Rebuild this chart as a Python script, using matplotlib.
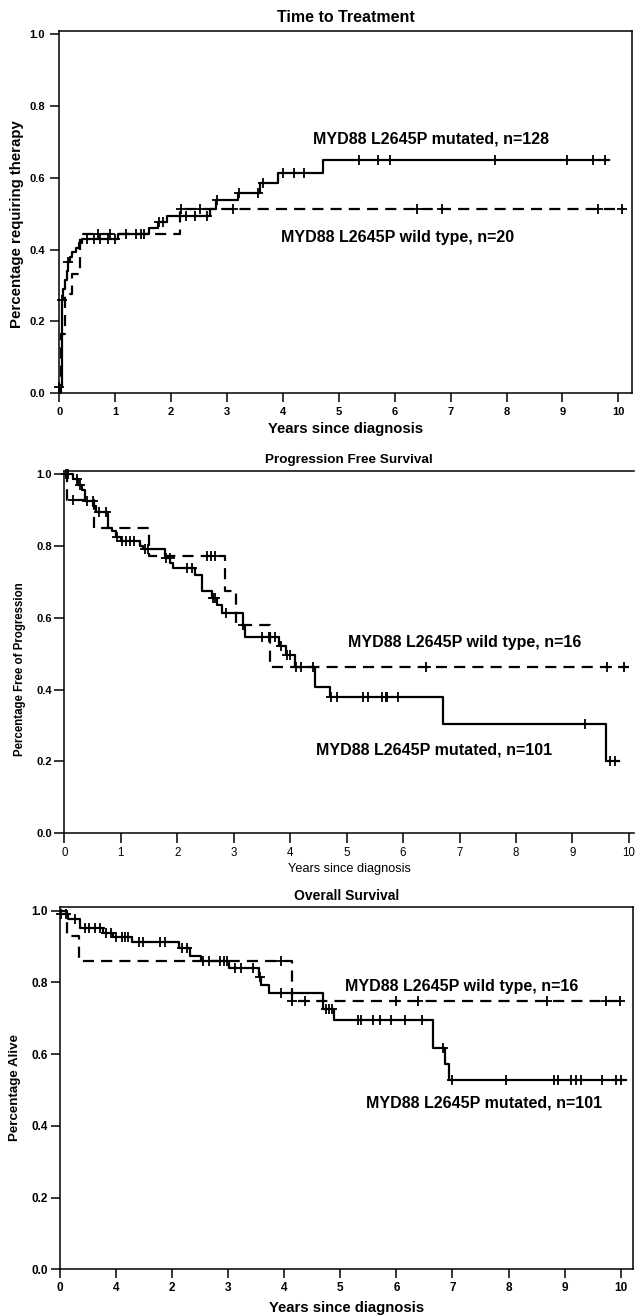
import matplotlib
matplotlib.use("Agg")
import matplotlib.pyplot as plt
import numpy as np

plt.rcParams['font.family'] = ['Liberation Sans', 'DejaVu Sans']

# ---------------- data ----------------
# Panel 1: Time to Treatment (proportion requiring therapy)
ttt_mut_time = [0, 0.04, 0.07, 0.10, 0.13, 0.16, 0.19, 0.22, 0.30, 0.36, 0.40, 1.05, 1.60,
                1.76, 1.93, 2.70, 2.80, 3.20, 3.59, 3.91, 4.72, 9.84]
ttt_mut_prob = [0.018, 0.26, 0.29, 0.315, 0.34, 0.366, 0.38, 0.394, 0.403, 0.417, 0.429, 0.443, 0.46,
                0.476, 0.492, 0.514, 0.537, 0.558, 0.586, 0.614, 0.65, 0.65]
ttt_mut_cens = [0.0, 0.04, 0.16, 0.49, 0.62, 0.73, 0.88, 1.0, 1.2, 1.38, 1.47, 1.51, 1.78, 1.86,
                2.26, 2.43, 2.65, 2.83, 3.21, 3.56, 3.65, 4.0, 4.19, 4.37, 5.36, 5.70, 5.92, 7.79,
                9.08, 9.55, 9.76]
ttt_wt_time = [0, 0.03, 0.10, 0.22, 0.37, 2.16, 10.10]
ttt_wt_prob = [0.0, 0.165, 0.277, 0.333, 0.443, 0.514, 0.514]
ttt_wt_cens = [0.70, 0.91, 2.17, 2.52, 3.11, 6.39, 6.84, 9.63, 10.07]

# Panel 2: Progression Free Survival
pfs_mut_time = [0, 0.16, 0.25, 0.31, 0.37, 0.51, 0.56, 0.78, 0.84, 0.91, 1.01, 1.34, 1.40, 1.78,
                1.88, 1.93, 2.31, 2.43, 2.61, 2.70, 2.79, 3.16, 3.20, 3.81, 3.93, 4.08, 4.44, 4.71,
                6.70, 9.59, 9.82]
pfs_mut_prob = [1.0, 0.985, 0.97, 0.955, 0.925, 0.91, 0.895, 0.85, 0.84, 0.825, 0.812, 0.80, 0.79,
                0.765, 0.752, 0.738, 0.719, 0.675, 0.654, 0.635, 0.614, 0.58, 0.547, 0.521, 0.496,
                0.464, 0.408, 0.38, 0.303, 0.201, 0.201]
pfs_mut_cens = [0.03, 0.07, 0.23, 0.27, 0.41, 0.50, 0.62, 0.74, 0.94, 1.02, 1.09, 1.17, 1.23, 1.43,
                1.49, 1.81, 1.87, 2.17, 2.26, 2.64, 2.67, 2.86, 3.17, 3.50, 3.62, 3.65, 3.73, 3.83,
                3.95, 4.00, 4.11, 4.20, 4.41, 4.72, 4.83, 5.29, 5.38, 5.62, 5.69, 5.72, 5.91, 9.23,
                9.67, 9.75]
pfs_wt_time = [0, 0.04, 0.53, 1.50, 2.84, 3.04, 3.64, 10.01]
pfs_wt_prob = [1.0, 0.928, 0.849, 0.772, 0.675, 0.58, 0.462, 0.462]
pfs_wt_cens = [0.15, 2.52, 2.59, 2.67, 6.40, 9.61, 9.92]

# Panel 3: Overall Survival
os_mut_time = [0, 0.15, 0.35, 0.77, 0.95, 1.28, 2.13, 2.31, 2.51, 3.02, 3.55, 3.59, 3.73, 4.69,
               4.89, 6.65, 6.86, 6.94, 10.09]
os_mut_prob = [0.99, 0.976, 0.951, 0.938, 0.925, 0.911, 0.895, 0.873, 0.858, 0.839, 0.816, 0.793,
               0.771, 0.725, 0.695, 0.616, 0.572, 0.528, 0.528]
os_mut_cens = [0.02, 0.10, 0.27, 0.45, 0.52, 0.62, 0.71, 0.82, 0.91, 1.0, 1.1, 1.16, 1.22, 1.41,
               1.48, 1.79, 1.88, 2.17, 2.27, 2.55, 2.66, 2.85, 2.92, 2.97, 3.12, 3.22, 3.45, 3.57,
               3.95, 4.13, 4.74, 4.80, 4.86, 5.32, 5.36, 5.58, 5.70, 5.91, 6.15, 6.45, 6.83, 7.0,
               7.96, 8.81, 8.88, 9.12, 9.20, 9.30, 9.66, 9.92, 10.01]
os_wt_time = [0, 0.12, 0.33, 4.13, 10.0]
os_wt_prob = [1.0, 0.929, 0.858, 0.749, 0.749]
os_wt_cens = [3.95, 4.14, 4.37, 6.0, 6.39, 8.68, 9.73, 9.98]

x_ticks = list(range(0, 11))
x_ticklabels = [str(v) for v in x_ticks]
os_x_ticklabels = ['0', '4', '2', '3', '4', '5', '6', '7', '8', '9', '10']
y_ticks = [0.0, 0.2, 0.4, 0.6, 0.8, 1.0]
y_ticklabels = ['0.0', '0.2', '0.4', '0.6', '0.8', '1.0']

# ---------------- drawing ----------------
W, H = 635, 1315
fig = plt.figure(figsize=(W / 100, H / 100), dpi=100)
fig.patch.set_facecolor('white')

DASH = (0, (5, 3.2))


def km(ax, t, p, cens, dashed):
    t = np.asarray(t, dtype=float)
    p = np.asarray(p, dtype=float)
    ax.step(t, p, where='post', color='black', lw=1.6,
            linestyle=DASH if dashed else '-', clip_on=False, zorder=3)
    c = np.asarray(cens, dtype=float)
    idx = np.clip(np.searchsorted(t, c, side='right') - 1, 0, len(p) - 1)
    ax.plot(c, p[idx], linestyle='none', marker='+', ms=6.5, mew=1.3,
            color='black', clip_on=False, zorder=4)


def style(ax, xmax, ymax, tick_len, spine_right=True):
    ax.set_xlim(0, xmax)
    ax.set_ylim(0, ymax)
    for s in ax.spines.values():
        s.set_linewidth(1.1)
    ax.spines['right'].set_visible(spine_right)
    ax.tick_params(direction='out', length=tick_len, width=1.1, top=False, right=False)


# Panel 1 ---------------------------------------------------------
ax1 = fig.add_axes([59.3 / W, (H - 393.3) / H, 572.7 / W, 362.6 / H])
style(ax1, 10.245, 1.009, 6.7)
km(ax1, ttt_mut_time, ttt_mut_prob, ttt_mut_cens, False)
km(ax1, ttt_wt_time, ttt_wt_prob, ttt_wt_cens, True)
ax1.set_xticks(x_ticks, x_ticklabels, fontsize=8, fontweight='bold')
ax1.set_yticks(y_ticks, y_ticklabels, fontsize=8, fontweight='bold')
ax1.tick_params(axis='x', pad=3)
ax1.tick_params(axis='y', pad=3.5)
ax1.set_title('Time to Treatment', fontsize=11.5, fontweight='bold', pad=6.5)
ax1.set_xlabel('Years since diagnosis', fontsize=10.7, fontweight='bold', va='baseline')
ax1.xaxis.set_label_coords(0.5, -0.110)
ax1.set_ylabel('Percentage requiring therapy', fontsize=10.8, fontweight='bold', va='center')
ax1.yaxis.set_label_coords(-0.0744, 0.466)
ax1.text(6.65, 0.694, 'MYD88 L2645P mutated, n=128', ha='center', va='baseline',
         fontsize=11.5, fontweight='bold')
ax1.text(6.06, 0.422, 'MYD88 L2645P wild type, n=20', ha='center', va='baseline',
         fontsize=11.5, fontweight='bold')

# Panel 2 ---------------------------------------------------------
ax2 = fig.add_axes([64.3 / W, (H - 833.3) / H, 569.7 / W, 362.3 / H])
style(ax2, 10.09, 1.008, 7, spine_right=False)
km(ax2, pfs_mut_time, pfs_mut_prob, pfs_mut_cens, False)
km(ax2, pfs_wt_time, pfs_wt_prob, pfs_wt_cens, True)
ax2.set_xticks(x_ticks, x_ticklabels, fontsize=8.3)
ax2.set_yticks(y_ticks, y_ticklabels, fontsize=8, fontweight='bold')
ax2.tick_params(axis='x', pad=3)
ax2.tick_params(axis='y', pad=2)
ax2.set_title('Progression Free Survival', fontsize=9.7, fontweight='bold', pad=5.5)
ax2.set_xlabel('Years since diagnosis', fontsize=9.2, va='baseline')
ax2.xaxis.set_label_coords(0.5, -0.107)
ax2.set_ylabel('Percentage Free of Progression', fontsize=8.3, fontweight='bold', va='center')
ax2.yaxis.set_label_coords(-0.0778, 0.452)
ax2.text(7.10, 0.519, 'MYD88 L2645P wild type, n=16', ha='center', va='baseline',
         fontsize=11.5, fontweight='bold')
ax2.text(6.55, 0.220, 'MYD88 L2645P mutated, n=101', ha='center', va='baseline',
         fontsize=11.5, fontweight='bold')

# Panel 3 ---------------------------------------------------------
ax3 = fig.add_axes([60 / W, (H - 1269.3) / H, 573.3 / W, 362 / H])
style(ax3, 10.225, 1.009, 6.3)
km(ax3, os_mut_time, os_mut_prob, os_mut_cens, False)
km(ax3, os_wt_time, os_wt_prob, os_wt_cens, True)
ax3.set_xticks(x_ticks, os_x_ticklabels, fontsize=8.5, fontweight='bold')
ax3.set_yticks(y_ticks, y_ticklabels, fontsize=8.5, fontweight='bold')
ax3.tick_params(axis='x', pad=3)
ax3.tick_params(axis='y', pad=2.5)
ax3.set_title('Overall Survival', fontsize=10, fontweight='bold', pad=5.3)
ax3.set_xlabel('Years since diagnosis', fontsize=10.7, fontweight='bold', va='baseline')
ax3.xaxis.set_label_coords(0.5, -0.119)
ax3.set_ylabel('Percentage Alive', fontsize=9.6, fontweight='bold', va='center')
ax3.yaxis.set_label_coords(-0.0785, 0.502)
ax3.text(7.16, 0.776, 'MYD88 L2645P wild type, n=16', ha='center', va='baseline',
         fontsize=11.5, fontweight='bold')
ax3.text(7.57, 0.4505, 'MYD88 L2645P mutated, n=101', ha='center', va='baseline',
         fontsize=11.5, fontweight='bold')

fig.savefig('out.png', dpi=100, facecolor='white')
